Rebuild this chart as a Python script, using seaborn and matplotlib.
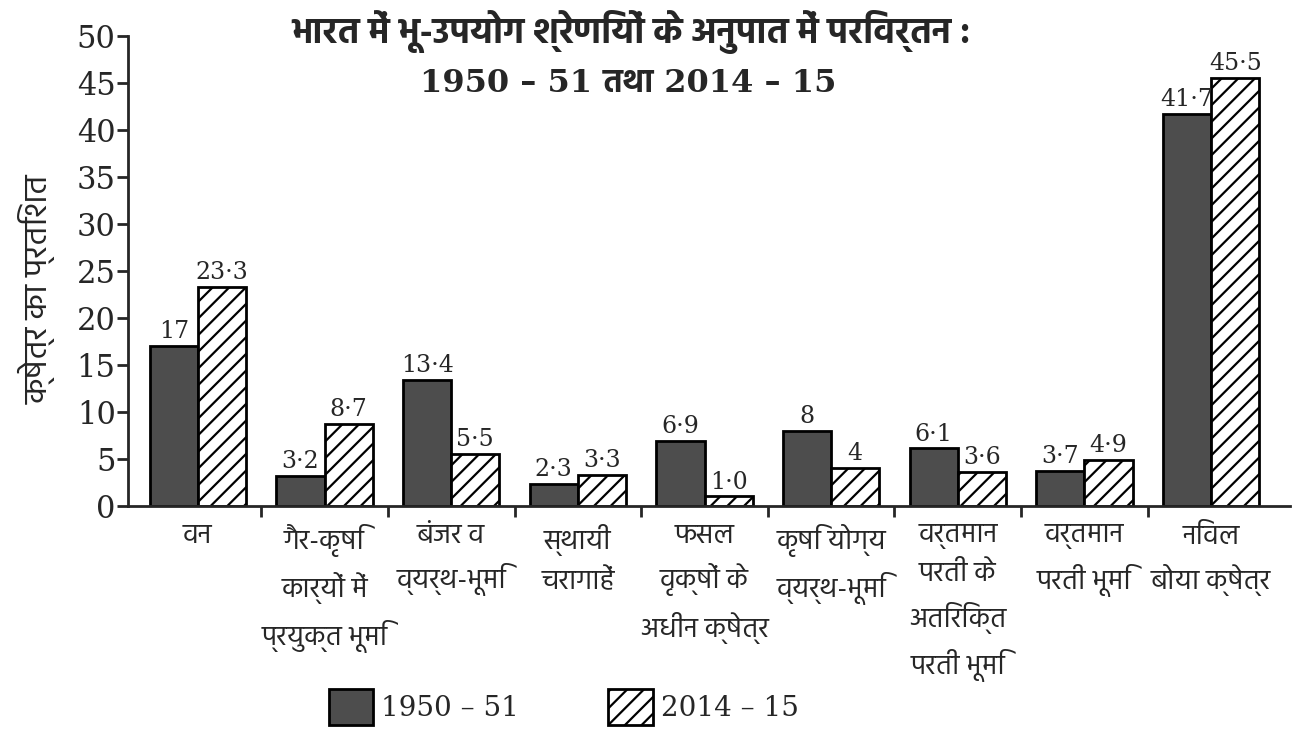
import matplotlib
matplotlib.use("Agg")
import matplotlib.pyplot as plt
from matplotlib.patches import Patch
import seaborn as sns
import pandas as pd

categories = ["वन", "गैर-कृषि\nकार्यों में\nप्रयुक्त भूमि", "बंजर व\nव्यर्थ-भूमि",
              "स्थायी\nचरागाहें", "फसल\nवृक्षों के\nअधीन क्षेत्र", "कृषि योग्य\nव्यर्थ-भूमि",
              "वर्तमान\nपरती के\nअतिरिक्त\nपरती भूमि", "वर्तमान\nपरती भूमि", "निवल\nबोया क्षेत्र"]
years = ["1950 – 51", "2014 – 15"]
share_1950 = [17, 3.2, 13.4, 2.3, 6.9, 8, 6.1, 3.7, 41.7]
share_2014 = [23.3, 8.7, 5.5, 3.3, 1.0, 4, 3.6, 4.9, 45.5]
labels_1950 = ["17", "3·2", "13·4", "2·3", "6·9", "8", "6·1", "3·7", "41·7"]
labels_2014 = ["23·3", "8·7", "5·5", "3·3", "1·0", "4", "3·6", "4·9", "45·5"]

df = pd.DataFrame({
    "cat": categories * 2,
    "year": [years[0]] * 9 + [years[1]] * 9,
    "val": share_1950 + share_2014,
})

sns.set_theme(style="ticks")
hfont = ["Hind", "DejaVu Sans"]
tfont = ["DejaVu Serif", "Hind"]   # serif digits, Devanagari falls back to Hind
plt.rcParams["font.family"] = ["DejaVu Serif"]
plt.rcParams["hatch.linewidth"] = 1.6

fig, ax = plt.subplots(figsize=(13.08, 7.46), dpi=100)
fig.subplots_adjust(left=0.098, right=0.986, bottom=0.322, top=0.952)

sns.barplot(data=df, x="cat", y="val", hue="year", order=categories, hue_order=years,
            palette=["#4d4d4d", "white"], width=0.76, gap=0, edgecolor="black",
            linewidth=2, legend=False, ax=ax)

# second series is white with diagonal hatching
for c in ax.containers[1]:
    c.set_hatch("//")

for cont, labs in zip(ax.containers, [labels_1950, labels_2014]):
    ax.bar_label(cont, labels=labs, padding=2, fontsize=17, family="DejaVu Serif")

ax.set_ylim(0, 50)
ax.set_xlim(-0.55, 8.62)
ax.set_yticks(range(0, 51, 5))
ax.tick_params(axis="y", labelsize=22, length=8, width=2, direction="out", pad=1)

# tick marks between groups, labels under group centres
ax.set_xticks([i + 0.5 for i in range(8)])
ax.set_xticklabels([])
ax.tick_params(axis="x", which="major", length=8, width=2, direction="out")
ax.set_xticks(range(9), minor=True)
ax.set_xticklabels(categories, minor=True, family=hfont, fontsize=20, linespacing=1.62, va="top")
ax.tick_params(axis="x", which="minor", length=0, pad=13)
ax.set_xlabel("")
ax.set_ylabel("क्षेत्र का प्रतिशत", family=hfont, fontsize=24)
ax.yaxis.set_label_coords(-0.062, 0.46)
sns.despine(ax=ax)
for s in ["left", "bottom"]:
    ax.spines[s].set_linewidth(2)

fig.text(0.482, 0.957, "भारत में भू-उपयोग श्रेणियों के अनुपात में परिवर्तन :", ha="center",
         va="center", family=hfont, fontsize=26, fontweight="bold")
fig.text(0.48, 0.888, "1950 – 51 तथा 2014 – 15", ha="center", va="center",
         family=tfont, fontsize=23, fontweight="bold")

handles = [Patch(facecolor="#4d4d4d", edgecolor="black", linewidth=2),
           Patch(facecolor="white", edgecolor="black", linewidth=2, hatch="//")]
fig.legend(handles, years, loc="lower center", bbox_to_anchor=(0.431, -0.005), ncol=2,
           frameon=False, fontsize=20, handlelength=1.6, handleheight=1.6,
           columnspacing=3.2, handletextpad=0.3)

fig.savefig("out.png", dpi=100)
